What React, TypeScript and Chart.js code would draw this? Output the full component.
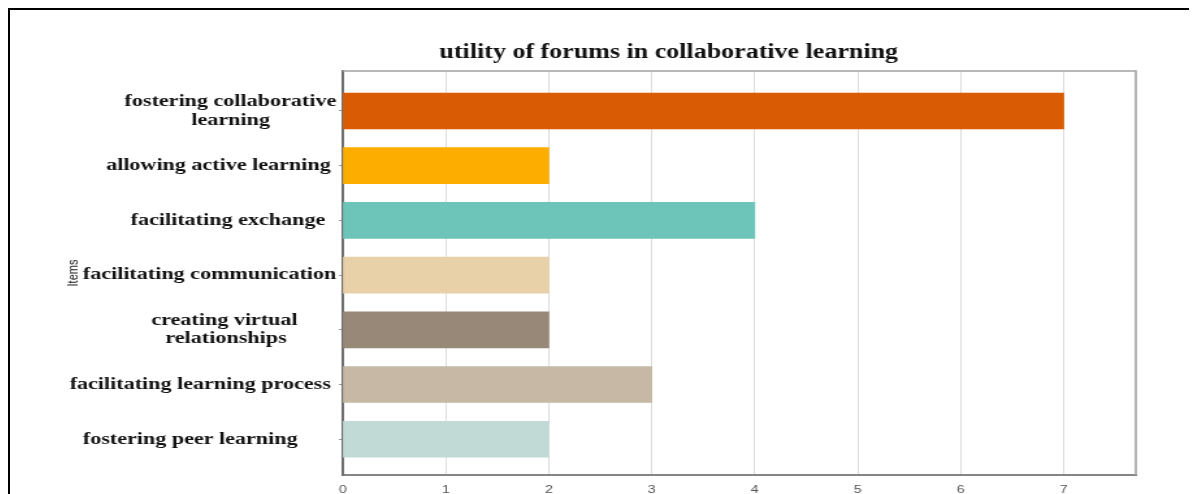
import { useEffect, useRef } from 'react';
import { Chart, registerables } from 'chart.js';

Chart.register(...registerables);

const chartTitle = 'utility of forums in collaborative learning';
const yAxisTitle = 'Items';

const categories = [
  'fostering collaborative learning',
  'allowing active learning',
  'facilitating exchange',
  'facilitating communication',
  'creating virtual relationships',
  'facilitating learning process',
  'fostering peer learning',
];

const values = [7, 2, 4, 2, 2, 3, 2];

const barColors = ['#D95C04', '#FDAC00', '#6DC4B8', '#E8D1A8', '#978878', '#C6B8A5', '#C2DAD6'];

// tick labels as shown (trailing spaces reproduce the original's label alignment)
const yTickLabels: (string | string[])[] = [
  ['fostering collaborative', 'learning            '],
  'allowing active learning ',
  'facilitating exchange  ',
  'facilitating communication',
  ['creating virtual       ', 'relationships         '],
  'facilitating learning process ',
  'fostering peer learning       ',
];

const xTicks = [0, 1, 2, 3, 4, 5, 6, 7];
const xMax = 7.7;

const SERIF = '"Liberation Serif", "Times New Roman", serif';
const SANS = '"Liberation Sans", Arial, sans-serif';

export default function App() {
  const ref = useRef<HTMLCanvasElement>(null);

  useEffect(() => {
    document.documentElement.style.overflow = 'hidden';
    document.body.style.overflow = 'hidden';
    const canvas = ref.current;
    if (!canvas) return;

    const framePlugin = {
      id: 'frameAndTitle',
      afterDraw(chart: any) {
        const { ctx, chartArea } = chart;
        ctx.save();
        ctx.strokeStyle = '#a3a3a3';
        ctx.lineWidth = 1.6;
        ctx.beginPath();
        ctx.moveTo(chartArea.left, chartArea.top);
        ctx.lineTo(chartArea.right, chartArea.top);
        ctx.lineTo(chartArea.right, chartArea.bottom);
        ctx.stroke();
        ctx.fillStyle = '#111';
        ctx.font = `bold 20px ${SERIF}`;
        ctx.textAlign = 'center';
        ctx.textBaseline = 'alphabetic';
        const tx = chartArea.left + (chartArea.right - chartArea.left) * 0.411;
        ctx.fillText(chartTitle, tx, chartArea.top - 13);
        ctx.restore();
      },
    };

    const chart = new Chart(canvas, {
      type: 'bar',
      data: {
        datasets: [
          {
            data: values.map((v, i) => ({ x: v, y: i })),
            backgroundColor: barColors,
            borderWidth: 0,
            barThickness: 36,
          },
        ],
      },
      options: {
        indexAxis: 'y',
        animation: false,
        responsive: true,
        maintainAspectRatio: false,
        layout: { padding: { top: 61, right: 47, left: 0, bottom: 0 } },
        plugins: {
          legend: { display: false },
          tooltip: { enabled: false },
          title: { display: false },
        },
        scales: {
          x: {
            type: 'linear',
            min: 0,
            max: xMax,
            bounds: 'data',
            offset: false,
            afterBuildTicks: (scale: any) => {
              scale.ticks = xTicks.map((v) => ({ value: v }));
            },
            afterFit: (scale: any) => {
              scale.height = 30;
            },
            grid: { color: '#dcdcdc', lineWidth: 1, drawTicks: false, offset: false },
            border: { display: true, color: '#858585', width: 2 },
            ticks: {
              padding: 8,
              color: '#555',
              font: { family: SANS, size: 11 },
            },
          },
          y: {
            type: 'linear',
            reverse: true,
            min: -0.731,
            max: 6.654,
            bounds: 'data',
            offset: false,
            afterBuildTicks: (scale: any) => {
              scale.ticks = categories.map((_, i) => ({ value: i }));
            },
            afterFit: (scale: any) => {
              scale.width = 256;
            },
            grid: { drawOnChartArea: false, drawTicks: true, tickLength: 3, color: '#999', offset: false },
            border: { display: true, color: '#707070', width: 2 },
            ticks: {
              autoSkip: false,
              padding: 2,
              color: '#111',
              font: { family: SERIF, size: 17, weight: 'bold', lineHeight: 1.08 },
              callback: (value: any) => yTickLabels[Number(value)] ?? '',
            },
            title: {
              display: true,
              text: yAxisTitle,
              color: '#222',
              font: { family: SANS, size: 11 },
              padding: { top: 42, bottom: 0 },
            },
          },
        },
      },
      plugins: [framePlugin],
    } as any);

    return () => chart.destroy();
  }, []);

  return (
    <div
      style={{
        width: 1189,
        height: 500,
        boxSizing: 'border-box',
        borderTop: '2px solid #000',
        borderLeft: '2px solid #000',
        overflow: 'hidden',
        background: '#fff',
      }}
    >
      <div style={{ width: 913, height: 495, transform: 'scaleX(1.3)', transformOrigin: '0 0', position: 'relative' }}>
        <canvas ref={ref} />
      </div>
    </div>
  );
}
